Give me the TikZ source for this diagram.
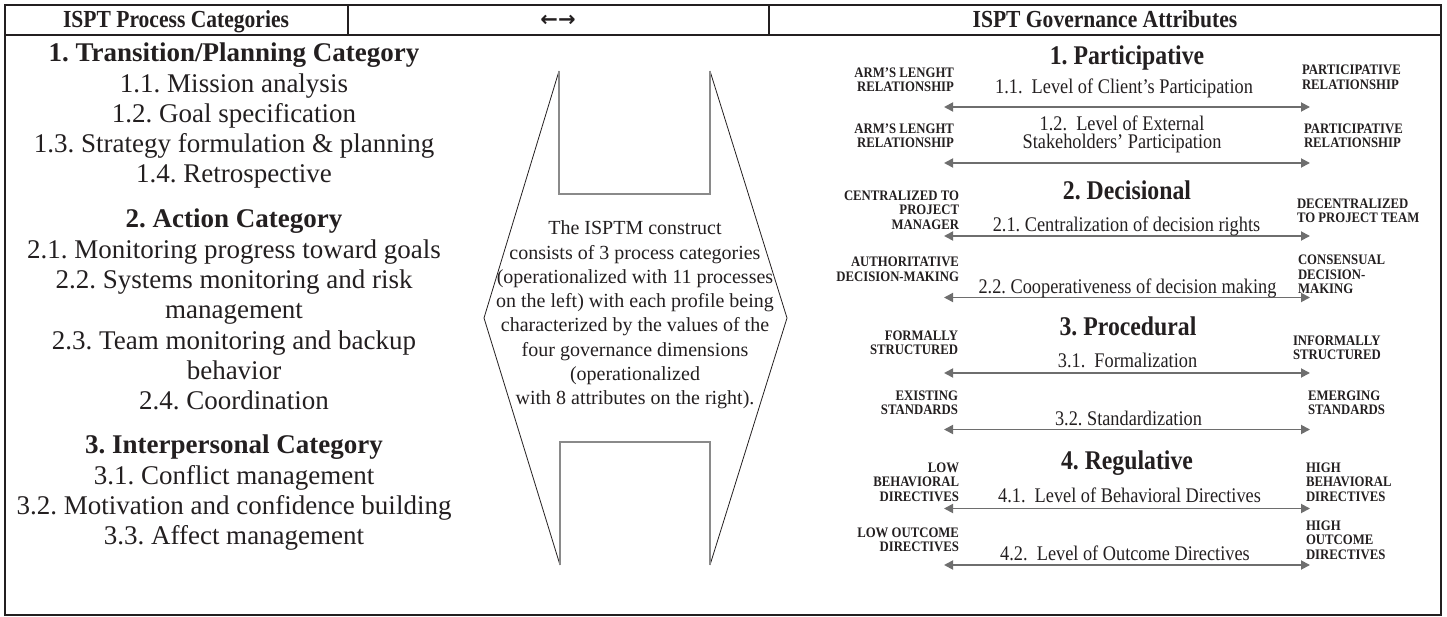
\documentclass[tikz,border=0pt]{standalone}
\usepackage{fontspec}
\setmainfont{Liberation Serif}
\newfontfamily\cserif{Liberation Serif}[FakeStretch=0.88,Ligatures=TeX]
\newfontfamily\arrowfont{DejaVu Sans}
\usetikzlibrary{arrows.meta}
\definecolor{ink}{HTML}{231F20}
\definecolor{arrgray}{HTML}{6E6E6E}
\definecolor{ugray}{HTML}{8A8A8A}
\frenchspacing
\begin{document}
\begin{tikzpicture}[x=1pt,y=-1pt,
  every node/.style={inner sep=0pt, outer sep=0pt, text=ink},
  hdr/.style={font=\fontsize{24.5}{26}\selectfont\cserif\bfseries, anchor=base},
  lcat/.style={font=\fontsize{27}{30}\selectfont\bfseries, anchor=base},
  litem/.style={font=\fontsize{27}{30}\selectfont, anchor=base},
  midtxt/.style={font=\fontsize{20}{24.3}\selectfont, align=center},
  rhead/.style={font=\fontsize{27}{30}\selectfont\cserif\bfseries, anchor=base},
  atxt/.style={font=\fontsize{20.8}{18}\selectfont\cserif, anchor=base},
  llab/.style={font=\fontsize{14.5}{14.5}\selectfont\cserif\bfseries, align=right, anchor=east},
  rlab/.style={font=\fontsize{14.5}{14.5}\selectfont\cserif\bfseries, align=left, anchor=west},
  dbl/.style={draw=arrgray, line width=1.8pt, {Triangle[length=9pt,width=9pt]}-{Triangle[length=9pt,width=9pt]}},
  frame/.style={draw=ink, line width=2pt},
  divider/.style={draw=ink, line width=1.5pt},
  slant/.style={draw=ink, line width=0.8pt},
  ushape/.style={draw=ugray, line width=1.3pt},
]
\useasboundingbox (0,0) rectangle (1447,617);
% frame
\draw[frame] (5,5) rectangle (1441,615);
\coordinate (hl) at (5,35);
\coordinate (hr) at (1441,35);
\draw[frame] (hl) -- (hr);
\coordinate (d1t) at (348,5); \coordinate (d1b) at (348,35);
\coordinate (d2t) at (769,5); \coordinate (d2b) at (769,35);
\draw[divider] (d1t) -- (d1b);
\draw[divider] (d2t) -- (d2b);
% header
\node[hdr] (h1) at (176,28) {ISPT Process Categories};
\node[anchor=base, font=\fontsize{21}{21}\selectfont\arrowfont\bfseries] (h2) at (558,27) {←→};
\node[hdr] (h3) at (1105,28) {ISPT Governance Attributes};
% left column
\node[lcat]  (c1)  at (234,62)  {1. Transition/Planning Category};
\node[litem] (p11) at (234,93)  {1.1. Mission analysis};
\node[litem] (p12) at (234,123) {1.2. Goal specification};
\node[litem] (p13) at (234,153) {1.3. Strategy formulation \& planning};
\node[litem] (p14) at (234,183) {1.4. Retrospective};
\node[lcat]  (c2)  at (234,228) {2. Action Category};
\node[litem] (p21) at (234,259) {2.1. Monitoring progress toward goals};
\node[litem] (p22a) at (234,289) {2.2. Systems monitoring and risk};
\node[litem] (p22b) at (234,319) {management};
\node[litem] (p23a) at (234,349) {2.3. Team monitoring and backup};
\node[litem] (p23b) at (234,379) {behavior};
\node[litem] (p24) at (234,409) {2.4. Coordination};
\node[lcat]  (c3)  at (234,453) {3. Interpersonal Category};
\node[litem] (p31) at (234,484) {3.1. Conflict management};
\node[litem] (p32) at (234,514) {3.2. Motivation and confidence building};
\node[litem] (p33) at (234,544) {3.3. Affect management};
% middle hexagon
\coordinate (tl) at (559,71);  \coordinate (tr) at (710,71);
\coordinate (ml) at (484,318); \coordinate (mr) at (787,318);
\coordinate (bl) at (560,565); \coordinate (br) at (710,565);
\coordinate (utl) at (559,194); \coordinate (utr) at (710,194);
\coordinate (ubl) at (560,442); \coordinate (ubr) at (710,442);
\draw[slant] (tl) -- (ml) -- (bl);
\draw[slant] (tr) -- (mr) -- (br);
\draw[ushape] (tl) -- (utl) -- (utr) -- (tr);
\draw[ushape] (bl) -- (ubl) -- (ubr) -- (br);
\node[midtxt] (mid) at (635,315) {The ISPTM construct\\consists of 3 process categories\\(operationalized with 11 processes\\on the left) with each profile being\\characterized by the values of the\\four governance dimensions\\(operationalized\\with 8 attributes on the right).};
% right section
\node[rhead] (g1) at (1127,65)  {1. Participative};
\node[rhead] (g2) at (1127,200) {2. Decisional};
\node[rhead] (g3) at (1128,335) {3. Procedural};
\node[rhead] (g4) at (1127,469) {4. Regulative};
% arrow ends
\foreach \n/\y in {a1/107,a2/163,a3/236,a4/297.5,a5/373,a6/429.5,a7/508.5,a8/565}{
  \coordinate (\n l) at (944,\y);
  \coordinate (\n r) at (1310,\y);
}
\foreach \n in {a1,a2,a3,a4,a5,a6,a7,a8}{\draw[dbl] (\n l) -- (\n r);}
% arrow texts
\node[atxt] (t11) at (1124,94)    {1.1.\ \ Level of Client's Participation};
\node[font=\fontsize{20.8}{18}\selectfont\cserif, align=center] (t12) at (1122,134.5) {1.2.\ \ Level of External\\Stakeholders' Participation};
\node[atxt] (t21) at (1126.5,232) {2.1. Centralization of decision rights};
\node[atxt] (t22) at (1127.5,294) {2.2. Cooperativeness of decision making};
\node[atxt] (t31) at (1127.5,367) {3.1.\ \ Formalization};
\node[atxt] (t32) at (1128.5,425.5) {3.2. Standardization};
\node[atxt] (t41) at (1129.5,502) {4.1.\ \ Level of Behavioral Directives};
\node[atxt] (t42) at (1125,560.5) {4.2.\ \ Level of Outcome Directives};
% labels
\node[llab] (l11) at (954,80)    {ARM'S LENGHT\\RELATIONSHIP};
\node[rlab] (r11) at (1302,77.5) {PARTICIPATIVE\\RELATIONSHIP};
\node[llab] (l12) at (954,136)   {ARM'S LENGHT\\RELATIONSHIP};
\node[rlab] (r12) at (1304,136)  {PARTICIPATIVE\\RELATIONSHIP};
\node[llab] (l21) at (959,210)   {CENTRALIZED TO\\PROJECT\\MANAGER};
\node[rlab] (r21) at (1297,211)  {DECENTRALIZED\\TO PROJECT TEAM};
\node[llab] (l22) at (959,269.5) {AUTHORITATIVE\\DECISION-MAKING};
\node[rlab] (r22) at (1298,274.5) {CONSENSUAL\\DECISION-\\MAKING};
\node[llab] (l31) at (958,343)   {FORMALLY\\STRUCTURED};
\node[rlab] (r31) at (1293,348)  {INFORMALLY\\STRUCTURED};
\node[llab] (l32) at (958,403)   {EXISTING\\STANDARDS};
\node[rlab] (r32) at (1308,403)  {EMERGING\\STANDARDS};
\node[llab] (l41) at (959,482)   {LOW\\BEHAVIORAL\\DIRECTIVES};
\node[rlab] (r41) at (1306,482)  {HIGH\\BEHAVIORAL\\DIRECTIVES};
\node[llab] (l42) at (959,540)   {LOW OUTCOME\\DIRECTIVES};
\node[rlab] (r42) at (1306,540)  {HIGH\\OUTCOME\\DIRECTIVES};
\end{tikzpicture}
\end{document}
